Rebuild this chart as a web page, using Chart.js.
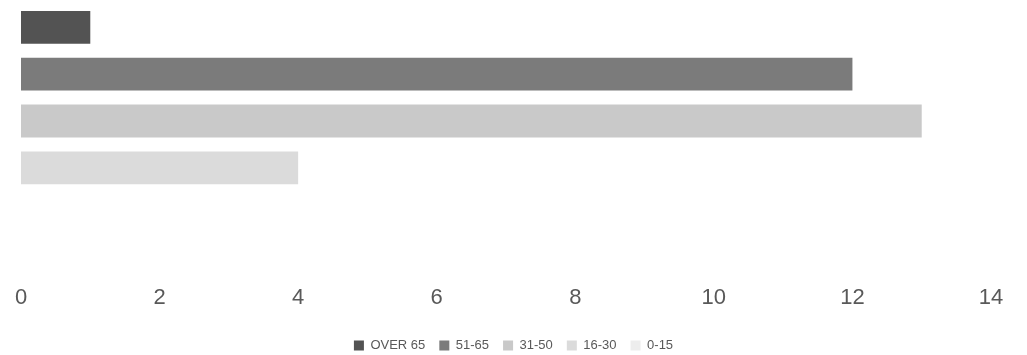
<!DOCTYPE html>
<html>
<head>
<meta charset="utf-8">
<script src="https://cdn.jsdelivr.net/npm/chart.js@4/dist/chart.umd.min.js"></script>
<style>
  html, body { margin: 0; padding: 0; background: #ffffff; }
  #wrap { width: 1027px; height: 355px; position: relative; }
</style>
</head>
<body>
<div id="wrap"><canvas id="chart"></canvas></div>
<script>
// Age groups and counts
const categories = [""];
const seriesNames = ["OVER 65", "51-65", "31-50", "16-30", "0-15"];
const over65 = [1];
const age51to65 = [12];
const age31to50 = [13];
const age16to30 = [4];
const age0to15 = [0];
const xTicks = [0, 2, 4, 6, 8, 10, 12, 14];

const seriesValues = [over65, age51to65, age31to50, age16to30, age0to15];
const colors = ["#535353", "#7b7b7b", "#c9c9c9", "#dbdbdb", "#ededed"];

const datasets = seriesNames.map((name, i) => ({
  label: name,
  data: seriesValues[i],
  backgroundColor: colors[i],
  borderWidth: 0,
  barPercentage: 0.7,
  categoryPercentage: 1.0
}));

const fontFamily = "'Liberation Sans', Arial, sans-serif";

// Center the legend on the full canvas width rather than the padded area
const legendCenter = {
  id: "legendCenter",
  afterLayout(chart) {
    const lg = chart.legend;
    if (!lg) return;
    const shift = (chart.width / 2) - (lg.left + lg.right) / 2;
    lg.left += shift;
    lg.right += shift;
  }
};

new Chart(document.getElementById("chart"), {
  type: "bar",
  data: { labels: categories, datasets },
  plugins: [legendCenter],
  options: {
    indexAxis: "y",
    responsive: true,
    maintainAspectRatio: false,
    animation: false,
    layout: { padding: { top: 4, left: 21, right: 36, bottom: -7 } },
    scales: {
      x: {
        min: 0,
        max: 14,
        afterBuildTicks: (axis) => { axis.ticks = xTicks.map(v => ({ value: v })); },
        // fixed band below the plot for the value labels
        afterFit: (axis) => {
          axis.height = 87;
          axis.paddingLeft = 0;
          axis.paddingRight = 0;
        },
        grid: { display: false, drawTicks: false },
        border: { display: false },
        ticks: {
          padding: 47,
          color: "#595959",
          font: { family: fontFamily, size: 22 },
          maxRotation: 0,
          autoSkip: false
        }
      },
      y: {
        display: false,
        grid: { display: false }
      }
    },
    plugins: {
      legend: {
        position: "bottom",
        labels: {
          boxWidth: 10,
          boxHeight: 10,
          padding: 14,
          color: "#595959",
          font: { family: fontFamily, size: 13 }
        }
      },
      tooltip: { enabled: false }
    }
  }
});
</script>
</body>
</html>
